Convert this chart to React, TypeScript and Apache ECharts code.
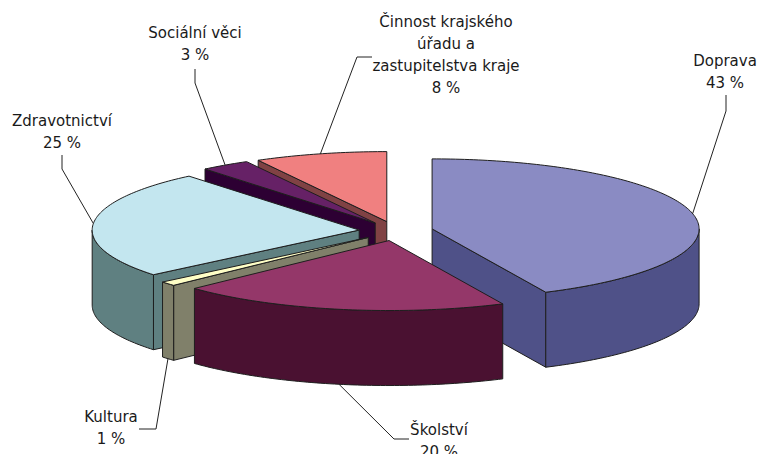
import { useEffect, useRef } from 'react';
import * as echarts from 'echarts';

// ---- data ----
const categories = [
  'Doprava',
  'Školství',
  'Kultura',
  'Zdravotnictví',
  'Sociální věci',
  'Činnost krajského úřadu a zastupitelstva kraje',
];
const values = [43, 20, 1, 25, 3, 8];
const unit = ' %';

// ---- styles ----
const topColors = ['#8A8BC3', '#943769', '#FFFFC6', '#C3E6EF', '#662166', '#F08080'];
const sideColors = ['#4F5188', '#4A1131', '#80806A', '#5F8081', '#2D0033', '#804244'];

// ---- layout ----
const CX = 396;
const CY = 231;
const RX = 267;
const RY = 70;
const DEPTH = 75;
const EXPLODE = 0.1385;
const WRAP_CHARS = 20;
const LINE_GAP = 22;
const FONT = 'normal 15px "DejaVu Sans"';
// centre of the first label line
const labelPos = [
  [725, 61],
  [439, 430],
  [111, 417],
  [62, 121],
  [195, 33],
  [446, 22],
];
// leader line points near the label (the slice end is computed)
const leaderElbows = [
  [[726, 95], [726, 111]],
  [[409, 439], [394, 439]],
  [[139, 429], [156, 429]],
  [[62, 155], [62, 169]],
  [[195, 69], [195, 83]],
  [[372, 57], [357, 57]],
];

const total = values.reduce((a, b) => a + b, 0);
const startAngles: number[] = [];
{
  let acc = 0;
  values.forEach((v) => {
    startAngles.push((acc / total) * 360);
    acc += v;
  });
}

function wrap(text: string, max: number): string[] {
  const words = text.split(' ');
  const lines: string[] = [];
  let cur = '';
  words.forEach((w) => {
    const next = cur ? cur + ' ' + w : w;
    if (next.length > max && cur) {
      lines.push(cur);
      cur = w;
    } else {
      cur = next;
    }
  });
  if (cur) lines.push(cur);
  return lines;
}

const rad = (d: number) => (d * Math.PI) / 180;

function renderItem(params: any, api: any) {
  const i = params.dataIndex;
  const v = api.value(0);
  const a1 = startAngles[i];
  const a2 = a1 + (v / total) * 360;
  const mid = (a1 + a2) / 2;
  const cx = CX + EXPLODE * RX * Math.sin(rad(mid));
  const cy = CY - EXPLODE * RY * Math.cos(rad(mid));
  const P = (deg: number, h = 0) => [cx + RX * Math.sin(rad(deg)), cy - RY * Math.cos(rad(deg)) + h];
  const arc = (s: number, e: number, h: number) => {
    const n = Math.max(1, Math.ceil(Math.abs(e - s)));
    const pts: number[][] = [];
    for (let k = 0; k <= n; k++) pts.push(P(s + ((e - s) * k) / n, h));
    return pts;
  };
  const stroke = { stroke: '#1e1e1e', lineWidth: 1, lineJoin: 'round' };
  const front = -Math.cos(rad(mid));
  const zSide = 10 + front * 5;
  const C0 = [cx, cy];
  const CD = [cx, cy + DEPTH];
  const children: any[] = [];
  if (Math.sin(rad(a1)) < -1e-6) {
    children.push({
      type: 'polygon',
      z2: zSide,
      shape: { points: [C0, P(a1), P(a1, DEPTH), CD] },
      style: { fill: sideColors[i], ...stroke },
    });
  }
  if (Math.sin(rad(a2)) > 1e-6) {
    children.push({
      type: 'polygon',
      z2: zSide,
      shape: { points: [C0, P(a2), P(a2, DEPTH), CD] },
      style: { fill: sideColors[i], ...stroke },
    });
  }
  const ws = Math.max(a1, 90);
  const we = Math.min(a2, 270);
  if (we > ws) {
    children.push({
      type: 'polygon',
      z2: zSide + 0.1,
      shape: { points: [...arc(ws, we, 0), ...arc(we, ws, DEPTH)] },
      style: { fill: sideColors[i], ...stroke },
    });
  }
  children.push({
    type: 'polygon',
    z2: 30,
    shape: { points: [C0, ...arc(a1, a2, 0)] },
    style: { fill: topColors[i], ...stroke },
  });
  const anchor = mid > 90 && mid < 270 ? P(mid, DEPTH) : P(mid, 0);
  children.push({
    type: 'polyline',
    z2: 40,
    shape: { points: [...leaderElbows[i], anchor] },
    style: { stroke: '#222', lineWidth: 1, fill: null },
  });
  const lines = [...wrap(categories[i], WRAP_CHARS), `${v}${unit}`];
  lines.forEach((t, j) => {
    children.push({
      type: 'text',
      z2: 50,
      style: {
        text: t,
        x: labelPos[i][0],
        y: labelPos[i][1] + j * LINE_GAP,
        font: FONT,
        fill: '#1a1a1a',
        align: 'center',
        verticalAlign: 'middle',
      },
    });
  });
  return { type: 'group', children };
}

export default function App() {
  const ref = useRef<HTMLDivElement>(null);
  useEffect(() => {
    const chart = echarts.init(ref.current!, null, { renderer: 'svg' });
    chart.setOption({
      animation: false,
      backgroundColor: '#ffffff',
      series: [
        {
          type: 'custom',
          coordinateSystem: 'none',
          silent: true,
          data: values.map((v, i) => [v, i]),
          renderItem,
        },
      ],
    });
    return () => chart.dispose();
  }, []);
  return (
    <div
      ref={ref}
      style={{ position: 'fixed', left: 0, top: 0, width: 759, height: 454 }}
    />
  );
}
